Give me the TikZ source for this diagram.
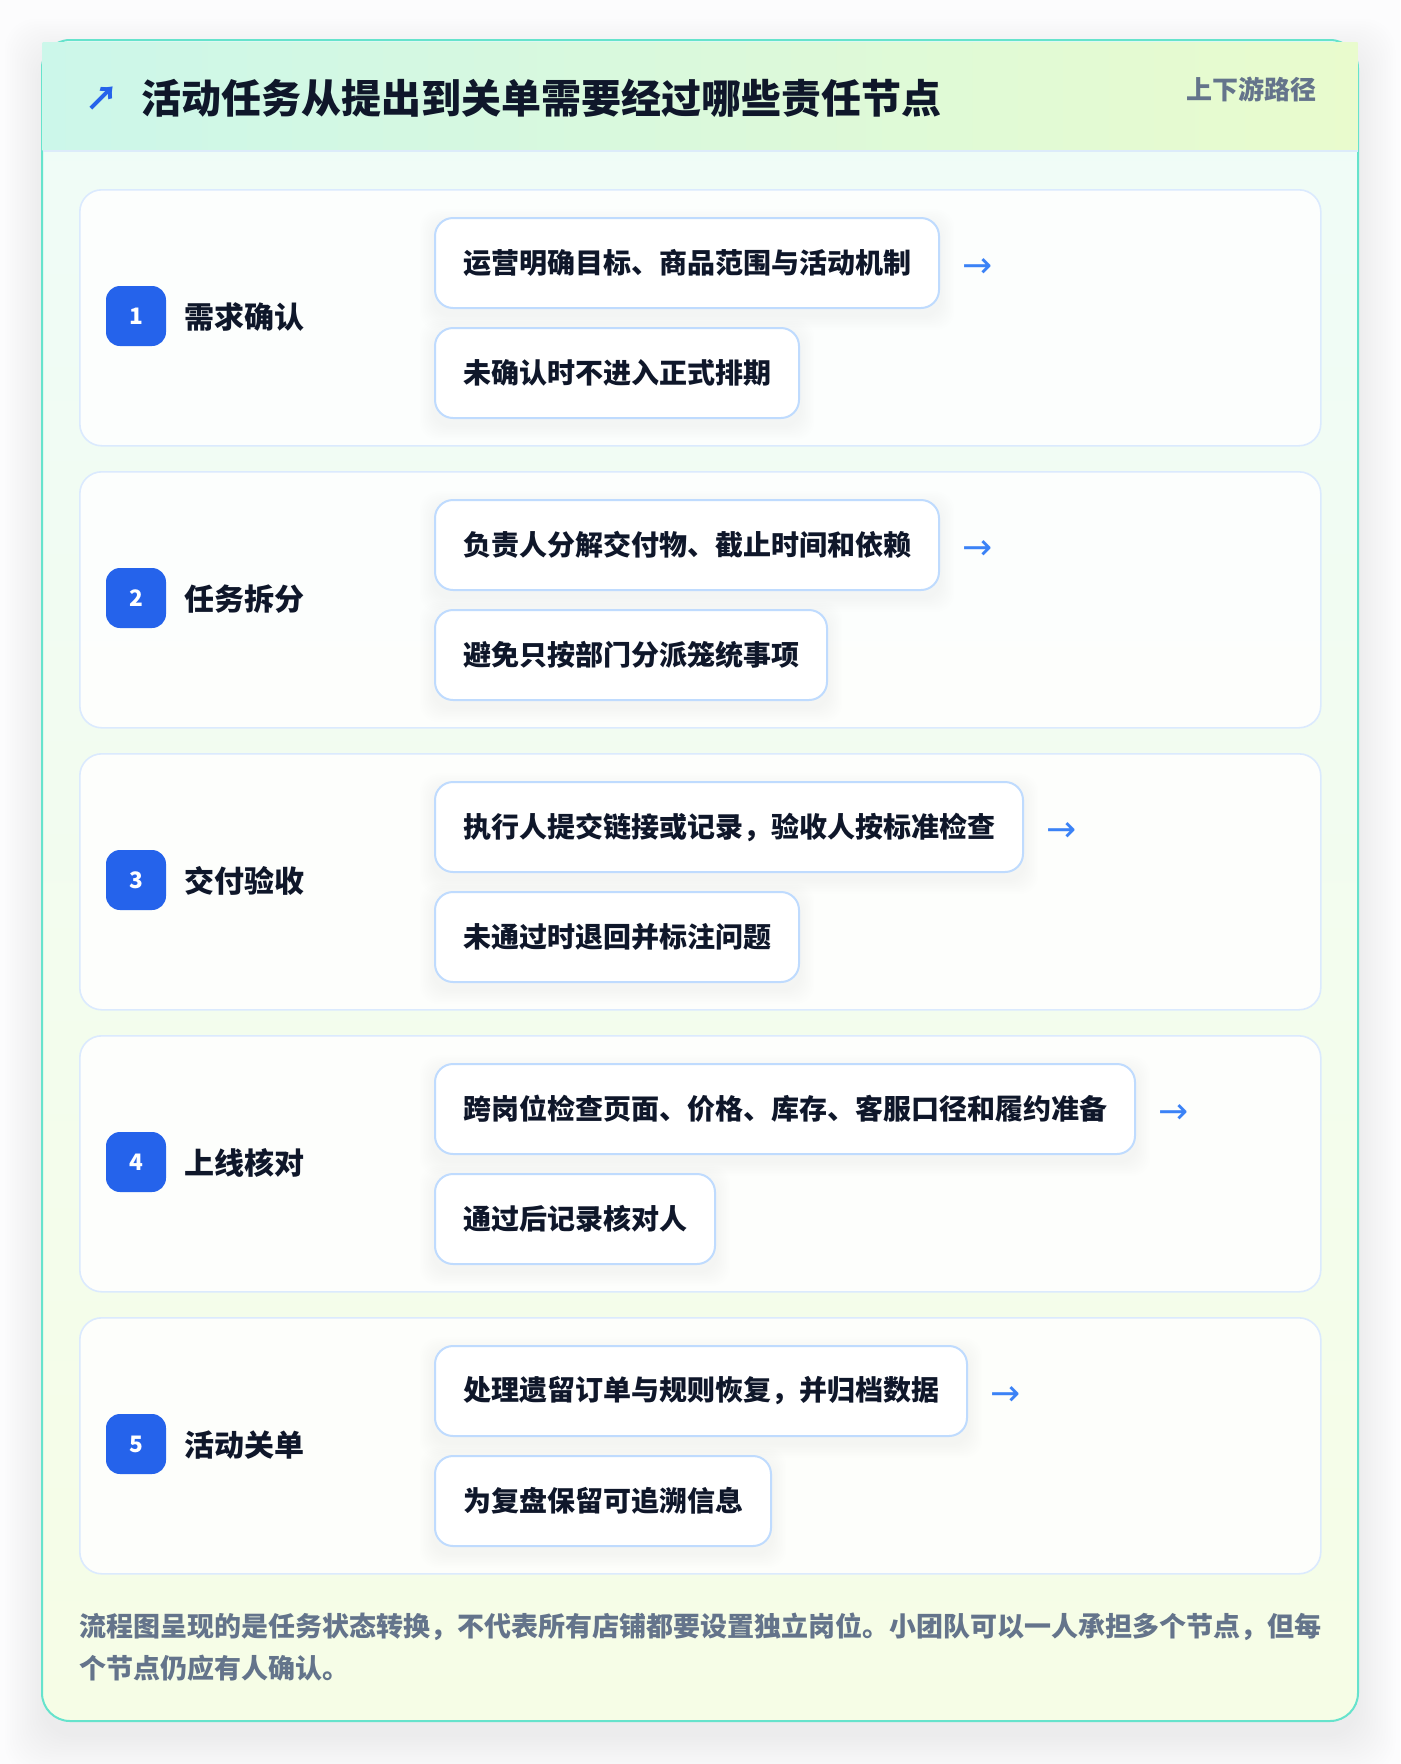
\documentclass[tikz,border=0pt]{standalone}
\usepackage{fontspec}
\setmainfont{Noto Sans CJK SC}
\newfontfamily\symfont{DejaVu Sans}
\definecolor{pagebg}{HTML}{FCFCFD}
\definecolor{cardborder}{HTML}{66E3CC}
\definecolor{headL}{HTML}{CCF7EA}
\definecolor{headR}{HTML}{E9FBCD}
\definecolor{bodyT}{HTML}{EFFCF8}
\definecolor{bodyB}{HTML}{F6FDE6}
\definecolor{headline}{HTML}{DCEBFA}
\definecolor{secborder}{HTML}{DBEAFE}
\definecolor{boxborder}{HTML}{BFDBFE}
\definecolor{badge}{HTML}{2563EB}
\definecolor{arrowblue}{HTML}{3B82F6}
\definecolor{dark}{HTML}{0F172A}
\definecolor{slate}{HTML}{64748B}
\pgfdeclarelayer{bg}
\pgfdeclarelayer{shad}
\pgfsetlayers{bg,shad,main}
\begin{document}
\begin{tikzpicture}[x=0.75pt,y=-0.75pt,
  itembox/.style={draw=boxborder, line width=1.5pt, fill=white, rounded corners=13.5pt,
    inner xsep=21pt, inner ysep=0pt, minimum height=67.5pt, anchor=north west,
    font=\fontsize{21}{25}\selectfont\bfseries, text=dark},
  seccard/.style={draw=secborder, line width=1.2pt, fill=white, fill opacity=0.85,
    rounded corners=16.5pt, minimum width=930.75pt, minimum height=192pt,
    anchor=north west, inner sep=0pt},
  badgebox/.style={fill=badge, rounded corners=10.5pt, minimum size=45pt, inner sep=0pt,
    text=white, font=\fontsize{17}{20}\selectfont\bfseries},
  steplabel/.style={anchor=west, inner sep=0pt, text=dark,
    font=\fontsize{22.5}{27}\selectfont\bfseries},
  arrowtxt/.style={inner sep=0pt, text=arrowblue, font=\symfont\fontsize{27}{31}\selectfont},
  boxshadow/.style={black, opacity=0.0052, rounded corners=14pt},
]
\useasboundingbox (0,0) rectangle (1400,1764);
\begin{pgfonlayer}{bg}
\fill[pagebg] (0,0) rectangle (1400,1764);
% outer card shadow
\foreach \k in {0,...,15}
  \fill[black, opacity=0.0055, rounded corners=24pt]
    (42-\k*2.5, 56-\k*2.5) rectangle (1358+\k*2.5, 1737+\k*2.5);
% card body
\shade[top color=bodyT, bottom color=bodyB, rounded corners=21pt] (42,40) rectangle (1358,1721);
\draw[cardborder, line width=1.5pt, rounded corners=21pt] (42,40) rectangle (1358,1721);
% header
\shade[left color=headL, right color=headR] (42.5,42) rectangle (1357.5,150);
\draw[headline, line width=1.5pt] (42.5,151) -- (1357.5,151);
\end{pgfonlayer}

\node[inner sep=0pt, text=badge, font=\fontsize{25}{29}\selectfont\bfseries] (icon) at (102,99) {↗};
\node[anchor=west, inner sep=0pt, text=dark, font=\fontsize{30}{36}\selectfont\bfseries] (title) at (141,98) {活动任务从提出到关单需要经过哪些责任节点};
\node[anchor=east, inner sep=0pt, text=slate, font=\fontsize{19.5}{24}\selectfont\bfseries] (tag) at (1317,89) {上下游路径};

\foreach \n/\T/\lab/\ta/\tb in {
  1/189/需求确认/运营明确目标、商品范围与活动机制/未确认时不进入正式排期,
  2/471/任务拆分/负责人分解交付物、截止时间和依赖/避免只按部门分派笼统事项,
  3/753/交付验收/执行人提交链接或记录，验收人按标准检查/未通过时退回并标注问题,
  4/1035/上线核对/跨岗位检查页面、价格、库存、客服口径和履约准备/通过后记录核对人,
  5/1317/活动关单/处理遗留订单与规则恢复，并归档数据/为复盘保留可追溯信息}{
  \begin{pgfonlayer}{bg}
    \node[seccard] (sec\n) at (79,\T) {};
  \end{pgfonlayer}
  \node[badgebox] (badge\n) at (136,\T+127) {\n};
  \node[steplabel] (lab\n) at (184,\T+128) {\lab};
  \node[itembox] (boxa\n) at (434,\T+28) {\ta};
  \node[itembox] (boxb\n) at (434,\T+138) {\tb};
  \node[arrowtxt] (arr\n) at ([xshift=28.5pt, yshift=-3.75pt]boxa\n.east) {→};
  \begin{pgfonlayer}{shad}
    \foreach \k in {1,...,9}{
      \fill[boxshadow] ([xshift=-\k*1.2pt, yshift=\k*1.2pt-5pt]boxa\n.north west) rectangle ([xshift=\k*1.2pt, yshift=-\k*1.2pt-5pt]boxa\n.south east);
      \fill[boxshadow] ([xshift=-\k*1.2pt, yshift=\k*1.2pt-5pt]boxb\n.north west) rectangle ([xshift=\k*1.2pt, yshift=-\k*1.2pt-5pt]boxb\n.south east);
    }
  \end{pgfonlayer}
}

\node[anchor=west, inner sep=0pt, text=slate, font=\fontsize{20.25}{24}\selectfont\bfseries] (foot1) at (79,1627) {流程图呈现的是任务状态转换，不代表所有店铺都要设置独立岗位。小团队可以一人承担多个节点，但每};
\node[anchor=west, inner sep=0pt, text=slate, font=\fontsize{20.25}{24}\selectfont\bfseries] (foot2) at (79,1668) {个节点仍应有人确认。};
\end{tikzpicture}
\end{document}
